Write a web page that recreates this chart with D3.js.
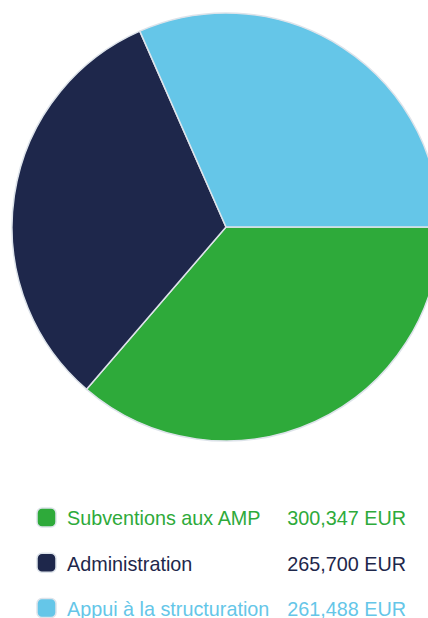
<!DOCTYPE html>
<html lang="fr">
    <head>
        <meta charset="utf-8">
        <title>Budget</title>
        <script type="text/javascript" src="https://d3js.org/d3.v7.min.js"></script>
        <style type="text/css">
          body { margin: 0; background: #ffffff; }
          svg { display: block; }
          text { font-family: "Liberation Sans", Arial, sans-serif; }
        </style>
    </head>
    <body>
        <svg width="428" height="618"></svg>
        <script type="text/javascript">

            const svg = d3.select("svg");
            const w = 428;
            const h = 618;

            // data
            const categories = ["Subventions aux AMP", "Administration", "Appui à la structuration"];
            const values = [300347, 265700, 261488];
            const colors = ["#2eaa3a", "#1e274b", "#65c6e8"];

            const cx = 226, cy = 227, r = 214;

            // pie starts at 3 o'clock, clockwise
            const pie = d3.pie()
                          .sort(null)
                          .startAngle(Math.PI / 2)
                          .endAngle(Math.PI / 2 + 2 * Math.PI);

            const arc = d3.arc().innerRadius(0).outerRadius(r);

            svg.append("g")
               .attr("transform", `translate(${cx},${cy})`)
               .selectAll("path")
               .data(pie(values))
               .join("path")
               .attr("d", arc)
               .style("fill", (d, i) => colors[i])
               .style("stroke", "#dde3ea")
               .style("stroke-width", 1.5)
               .style("stroke-linejoin", "round");

            // legend
            const fmt = d3.format(",");
            const rowY = d3.scalePoint().domain(categories).range([517.5, 608]);

            const rows = svg.append("g")
                            .selectAll("g")
                            .data(categories)
                            .join("g")
                            .attr("transform", d => `translate(0,${rowY(d)})`);

            rows.append("rect")
                .attr("x", 37)
                .attr("y", -9.5)
                .attr("width", 19)
                .attr("height", 19)
                .attr("rx", 5)
                .style("fill", (d, i) => colors[i])
                .style("stroke", "#dde3ea")
                .style("stroke-width", 1.5);

            rows.append("text")
                .attr("x", 67)
                .attr("dy", "0.4em")
                .style("font-size", "19.8px")
                .style("fill", (d, i) => colors[i])
                .text(d => d);

            rows.append("text")
                .attr("x", 406)
                .attr("dy", "0.4em")
                .attr("text-anchor", "end")
                .style("font-size", "19.8px")
                .style("fill", (d, i) => colors[i])
                .text((d, i) => fmt(values[i]) + " EUR");

        </script>
    </body>
</html>
